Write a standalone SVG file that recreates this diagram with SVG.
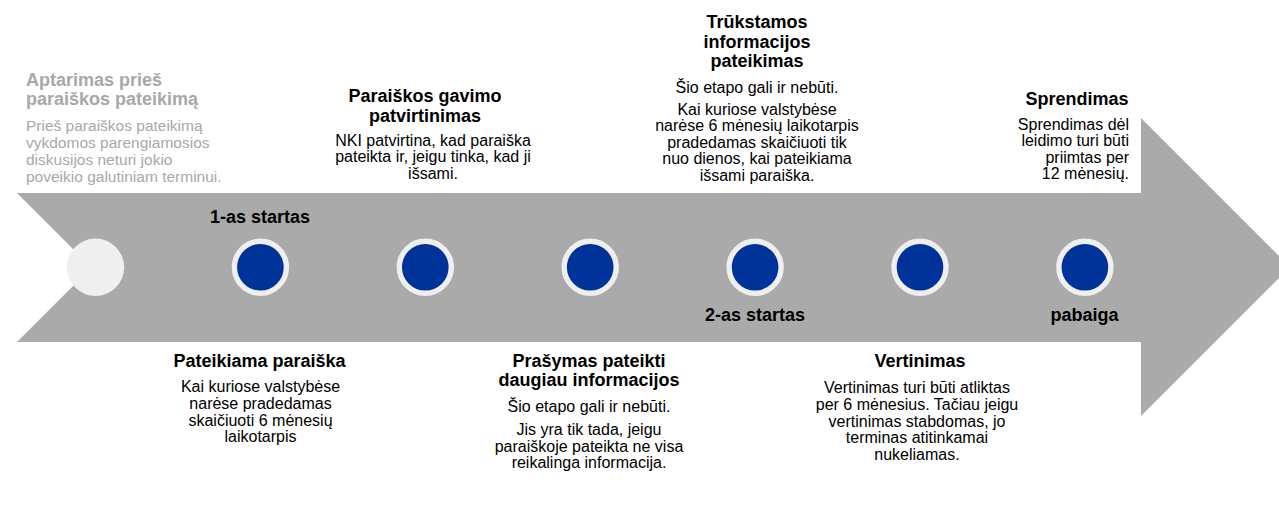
<svg xmlns="http://www.w3.org/2000/svg" width="1279" height="508" viewBox="0 0 1279 508">
<style>
text{font-family:"Liberation Sans",Arial,sans-serif;fill:#000}
.t{font-size:18px;font-weight:bold}
.b{font-size:16px}
.g{fill:#A8A8A8}
.gb{font-size:15.5px}
.c{text-anchor:middle}
.r{text-anchor:end}
.dot{fill:#003399;stroke:#EFEFEF;stroke-width:5.4}
</style>
<rect width="1279" height="508" fill="#FFFFFF"/>
<g id="connectors">
<path id="timeline-arrow" d="M17,193 H1141 V118 L1290,267 L1141,416 V342 H17 L91.5,267.5 Z" fill="#AAAAAA"/>
</g>
<g id="node-pre">
<circle cx="95.5" cy="267.3" r="28.7" fill="#EFEFEF"/>
<text class="t g" x="26" y="86">Aptarimas prieš</text>
<text class="t g" x="26" y="105">paraiškos pateikimą</text>
<text class="gb g" x="26" y="131">Prieš paraiškos pateikimą</text>
<text class="gb g" x="26" y="148">vykdomos parengiamosios</text>
<text class="gb g" x="26" y="165">diskusijos neturi jokio</text>
<text class="gb g" x="26" y="182">poveikio galutiniam terminui.</text>
</g>
<g id="node-submit">
<circle class="dot" cx="260.4" cy="267.3" r="26"/>
<text class="t c" x="260" y="222.5">1-as startas</text>
<text class="t c" x="259.5" y="367">Pateikiama paraiška</text>
<text class="b c" x="260.5" y="392.3">Kai kuriose valstybėse</text>
<text class="b c" x="260.5" y="409">narėse pradedamas</text>
<text class="b c" x="260.5" y="425.7">skaičiuoti 6 mėnesių</text>
<text class="b c" x="260.5" y="442.3">laikotarpis</text>
</g>
<g id="node-confirm">
<circle class="dot" cx="425.3" cy="267.3" r="26"/>
<text class="t c" x="425" y="102">Paraiškos gavimo</text>
<text class="t c" x="425" y="121.5">patvirtinimas</text>
<text class="b c" x="433" y="145.8">NKI patvirtina, kad paraiška</text>
<text class="b c" x="433" y="162.3">pateikta ir, jeigu tinka, kad ji</text>
<text class="b c" x="433" y="178.8">išsami.</text>
</g>
<g id="node-request">
<circle class="dot" cx="590.2" cy="267.3" r="26"/>
<text class="t c" x="589" y="366.7">Prašymas pateikti</text>
<text class="t c" x="589" y="385.5">daugiau informacijos</text>
<text class="b c" x="589" y="411.7">Šio etapo gali ir nebūti.</text>
<text class="b c" x="589" y="435">Jis yra tik tada, jeigu</text>
<text class="b c" x="589" y="451.7">paraiškoje pateikta ne visa</text>
<text class="b c" x="589" y="468.3">reikalinga informacija.</text>
</g>
<g id="node-missing">
<circle class="dot" cx="755.1" cy="267.3" r="26"/>
<text class="t c" x="757" y="28.3">Trūkstamos</text>
<text class="t c" x="757" y="47.7">informacijos</text>
<text class="t c" x="757" y="67">pateikimas</text>
<text class="b c" x="757" y="92.7">Šio etapo gali ir nebūti.</text>
<text class="b c" x="757" y="114.6">Kai kuriose valstybėse</text>
<text class="b c" x="757" y="131.2">narėse 6 mėnesių laikotarpis</text>
<text class="b c" x="757" y="147.8">pradedamas skaičiuoti tik</text>
<text class="b c" x="757" y="164.4">nuo dienos, kai pateikiama</text>
<text class="b c" x="757" y="181">išsami paraiška.</text>
<text class="t c" x="755" y="321">2-as startas</text>
</g>
<g id="node-evaluation">
<circle class="dot" cx="920" cy="267.3" r="26"/>
<text class="t c" x="920" y="366.7">Vertinimas</text>
<text class="b c" x="917" y="393.3">Vertinimas turi būti atliktas</text>
<text class="b c" x="917" y="410">per 6 mėnesius. Tačiau jeigu</text>
<text class="b c" x="917" y="426.7">vertinimas stabdomas, jo</text>
<text class="b c" x="917" y="443.3">terminas atitinkamai</text>
<text class="b c" x="917" y="460">nukeliamas.</text>
</g>
<g id="node-decision">
<circle class="dot" cx="1084.9" cy="267.3" r="26"/>
<text class="t c" x="1084.5" y="320.5">pabaiga</text>
<text class="t r" x="1128.5" y="105">Sprendimas</text>
<text class="b r" x="1129" y="129.5">Sprendimas dėl</text>
<text class="b r" x="1129" y="146">leidimo turi būti</text>
<text class="b r" x="1129" y="162.7">priimtas per</text>
<text class="b r" x="1129" y="179.3">12 mėnesių.</text>
</g>
</svg>
